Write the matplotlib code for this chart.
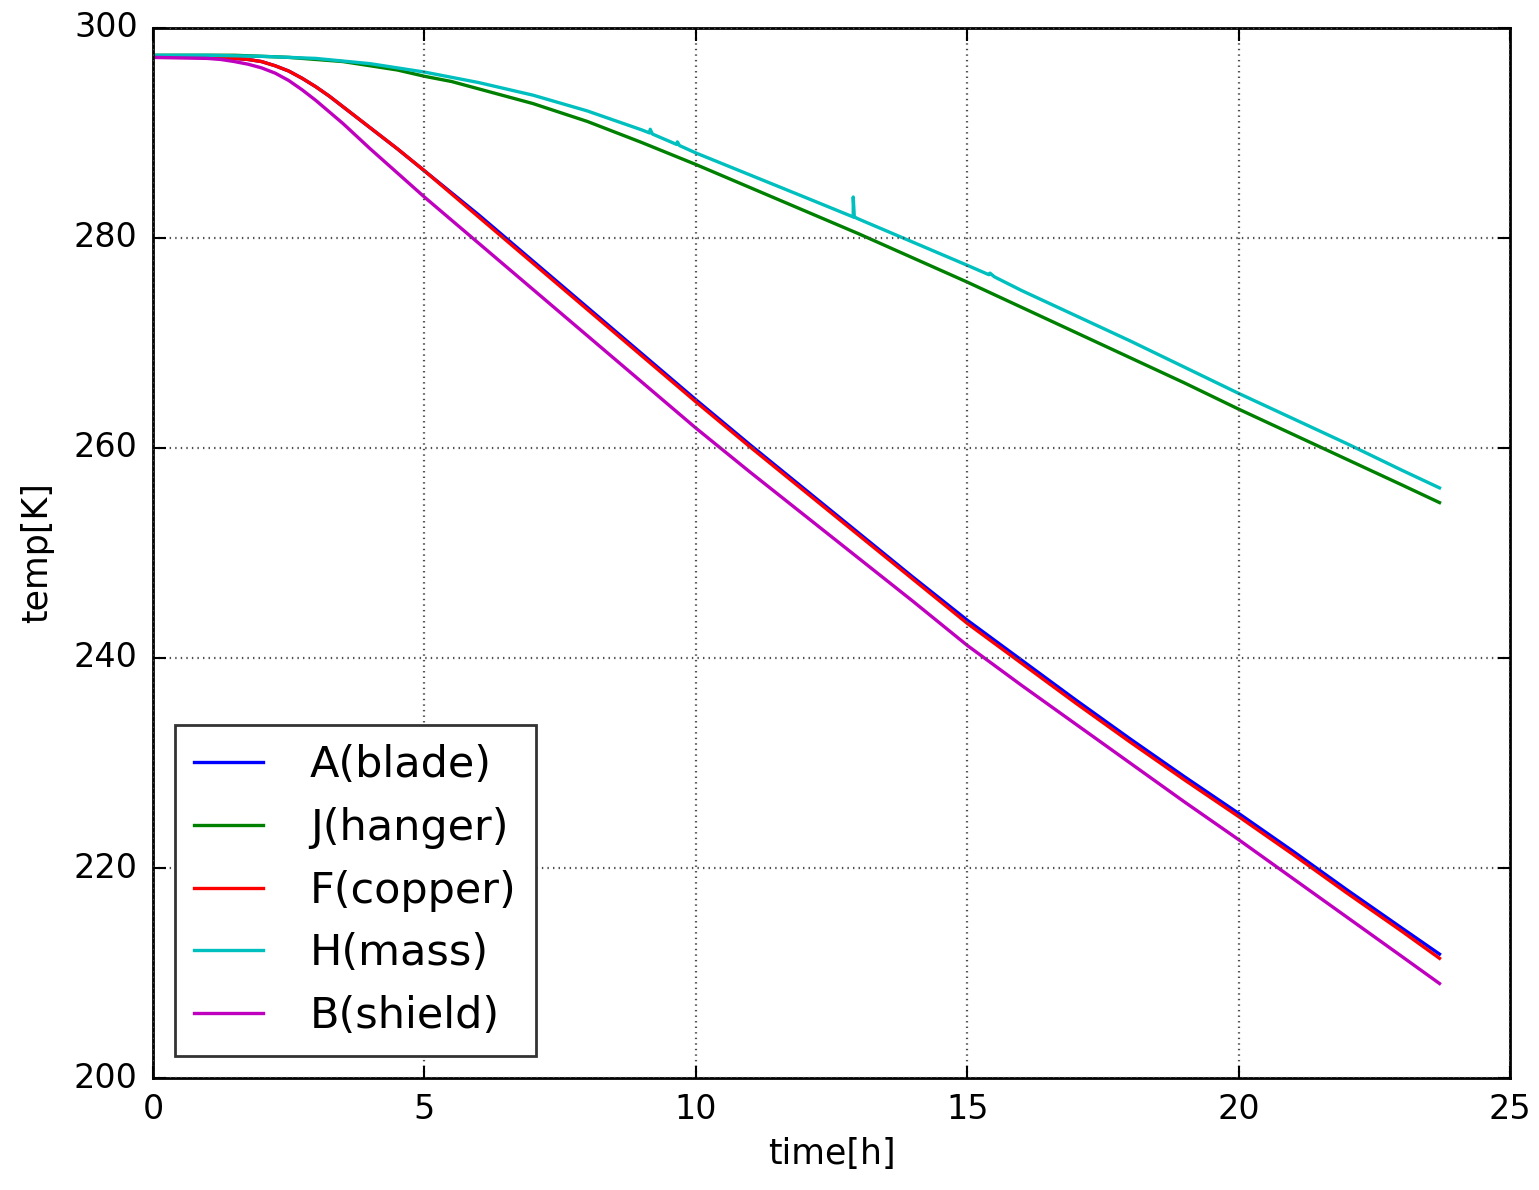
import matplotlib
matplotlib.use("Agg")
import matplotlib.pyplot as plt

# time axis [h]
time_h = [0, 1, 1.25, 1.5, 1.75, 2, 2.25, 2.5, 2.75, 3, 3.25, 3.5, 3.75, 4,
          4.5, 5, 5.5, 6, 7, 8, 9, 10, 11, 12, 13, 14, 15, 16, 17, 18, 19,
          20, 21, 22, 23, 23.7]

# temperatures [K]
temp_blade = [297.2, 297.2, 297.15, 297.1, 297.0, 296.8, 296.4, 295.9, 295.2,
              294.4, 293.5, 292.5, 291.5, 290.5, 288.5, 286.4, 284.3, 282.2,
              277.8, 273.4, 269.0, 264.6, 260.3, 256.1, 251.9, 247.7, 243.6,
              239.8, 236.0, 232.3, 228.7, 225.2, 221.6, 217.9, 214.3, 211.8]
temp_copper = [297.2, 297.2, 297.15, 297.1, 297.0, 296.8, 296.4, 295.9, 295.2,
               294.4, 293.5, 292.5, 291.5, 290.5, 288.5, 286.4, 284.2, 282.0,
               277.6, 273.2, 268.8, 264.4, 260.1, 255.9, 251.7, 247.5, 243.3,
               239.5, 235.7, 232.0, 228.4, 224.9, 221.3, 217.6, 214.0, 211.4]
temp_shield = [297.2, 297.1, 297.0, 296.8, 296.55, 296.2, 295.7, 295.0, 294.1,
               293.1, 292.0, 290.9, 289.7, 288.5, 286.2, 283.9, 281.7, 279.5,
               275.1, 270.7, 266.3, 261.9, 257.7, 253.6, 249.5, 245.4, 241.2,
               237.4, 233.7, 230.0, 226.3, 222.7, 219.0, 215.3, 211.6, 209.0]
temp_hanger = [297.4, 297.4, 297.4, 297.4, 297.35, 297.3, 297.25, 297.2, 297.1,
               297.0, 296.9, 296.8, 296.6, 296.4, 296.0, 295.4, 294.9, 294.2,
               292.8, 291.1, 289.1, 287.0, 284.8, 282.6, 280.4, 278.1, 275.8,
               273.4, 271.0, 268.6, 266.2, 263.7, 261.3, 258.9, 256.5, 254.8]

# the mass sensor has a few glitches, so it gets its own time base
time_mass = [0, 1, 2, 3, 4, 5, 5.5, 6, 7, 8, 9, 9.15, 9.16, 9.2, 9.65, 9.66,
             9.7, 10, 11, 12, 12.9, 12.9, 12.92, 13, 14, 15, 15.4, 15.42, 15.5,
             16, 17, 18, 19, 20, 21, 22, 23, 23.7]
temp_mass = [297.4, 297.4, 297.3, 297.1, 296.6, 295.8, 295.3, 294.8, 293.6,
             292.1, 290.3, 290.0, 290.35, 289.9, 288.9, 289.15, 288.8, 288.1,
             286.0, 283.9, 282.0, 283.9, 282.0, 281.8, 279.6, 277.4, 276.5,
             276.65, 276.3, 275.0, 272.6, 270.2, 267.7, 265.2, 262.8, 260.4,
             257.9, 256.2]

plt.style.use("classic")
plt.rcParams["font.family"] = ["DejaVu Sans"]

fig = plt.figure(figsize=(15.39, 11.9), dpi=100, facecolor="white")
ax = fig.add_axes([0.0994, 0.0941, 0.9812 - 0.0994, 0.9765 - 0.0941])
ax.set_facecolor("white")

lw = 2.4
ax.plot(time_h, temp_blade, color="b", lw=lw, label="A(blade)")
ax.plot(time_h, temp_hanger, color="g", lw=lw, label="J(hanger)")
ax.plot(time_h, temp_copper, color="r", lw=lw, label="F(copper)")
ax.plot(time_mass, temp_mass, color="c", lw=lw, label="H(mass)")
ax.plot(time_h, temp_shield, color="m", lw=lw, label="B(shield)")

ax.set_xlim(0, 25)
ax.set_ylim(200, 300)
ax.set_xticks([0, 5, 10, 15, 20, 25])
ax.set_yticks([200, 220, 240, 260, 280, 300])
ax.tick_params(labelsize=24, direction="in", length=9, width=1.5, pad=11,
               top=True, right=True)
ax.set_xlabel("time[h]", fontsize=25, labelpad=8)
ax.set_ylabel("temp[K]", fontsize=25, labelpad=14)
ax.grid(True, color="0.3", linestyle=":", linewidth=1.6)
for s in ax.spines.values():
    s.set_linewidth(2)

leg = ax.legend(loc="lower left", fontsize=31, handlelength=1.6,
                handletextpad=1.1, labelspacing=0.48, borderpad=0.45,
                borderaxespad=0.5, numpoints=1, fancybox=False)
leg.get_frame().set_edgecolor("0.2")
leg.get_frame().set_linewidth(2)

fig.savefig("out.png", dpi=100, facecolor="white")
